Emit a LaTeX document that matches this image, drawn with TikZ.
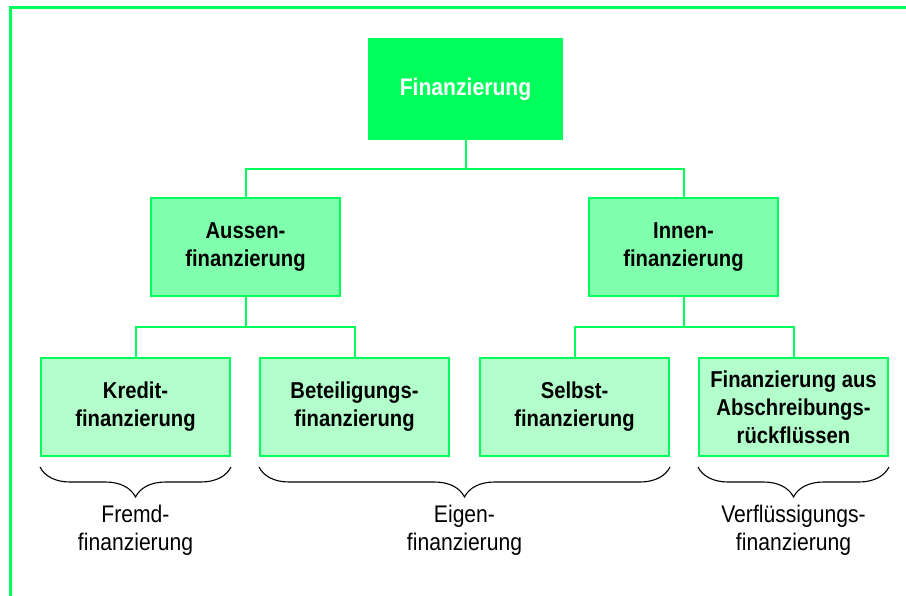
\documentclass[tikz,border=0pt]{standalone}
\usepackage{fontspec}
\setmainfont{Liberation Sans}[FakeStretch=0.88]
\usetikzlibrary{decorations.pathreplacing,calc}
\definecolor{gA}{RGB}{0,255,90}
\definecolor{gB}{RGB}{128,255,173}
\definecolor{gC}{RGB}{179,255,204}
\tikzset{
  box/.style={draw=gA, line width=2pt, align=center, inner sep=0pt,
    minimum width=189pt, minimum height=98pt,
    font=\fontsize{23}{28}\selectfont\bfseries},
  topbox/.style={box, fill=gA, text=white, minimum width=193pt, minimum height=100pt,
    font=\fontsize{24}{28}\selectfont\bfseries},
  midbox/.style={box, fill=gB},
  lowbox/.style={box, fill=gC},
  conn/.style={draw=gA, line width=2pt},
  tree/.style={to path={|- ($(\tikztostart)!0.5!(\tikztotarget)$) -| (\tikztotarget)}},
  brc/.style={draw=black, line width=1.1pt, decorate,
    decoration={brace, mirror, amplitude=30pt}},
  lab/.style={align=center, inner sep=0pt, font=\fontsize{24}{28}\selectfont}
}
\begin{document}
\begin{tikzpicture}[x=1pt,y=-1pt]
\useasboundingbox (0,0) rectangle (906,596);
\draw[gA, line width=3pt] (906,7.5) -- (10.5,7.5) -- (10.5,596);

\node[topbox] (fin) at (465.5,89) {Finanzierung};
\node[midbox] (aus) at (245.5,247.5) {Aussen-\\finanzierung};
\node[midbox] (inn) at (683.5,247.5) {Innen-\\finanzierung};
\node[lowbox] (kre) at (135.5,407) {Kredit-\\finanzierung};
\node[lowbox] (bet) at (354.5,407) {Beteiligungs-\\finanzierung};
\node[lowbox] (sel) at (574.5,407) {Selbst-\\finanzierung};
\node[lowbox] (abs) at (793.5,407) {Finanzierung aus\\Abschreibungs-\\rückflüssen};

\draw[conn] (fin.south) to[tree] (aus.north);
\draw[conn] (fin.south) to[tree] (inn.north);
\draw[conn] (aus.south) to[tree] (kre.north);
\draw[conn] (aus.south) to[tree] (bet.north);
\draw[conn] (inn.south) to[tree] (sel.north);
\draw[conn] (inn.south) to[tree] (abs.north);

\draw[brc] ([yshift=-10pt]kre.south west) -- ([yshift=-10pt]kre.south east);
\draw[brc] ([yshift=-10pt]bet.south west) -- ([yshift=-10pt]sel.south east);
\draw[brc] ([yshift=-10pt]abs.south west) -- ([yshift=-10pt]abs.south east);

\node[lab] (fremd) at (135.5,530) {Fremd-\\finanzierung};
\node[lab] (eigen) at (464.5,530) {Eigen-\\finanzierung};
\node[lab] (verfl) at (793.5,530) {Verflüssigungs-\\finanzierung};
\end{tikzpicture}
\end{document}
